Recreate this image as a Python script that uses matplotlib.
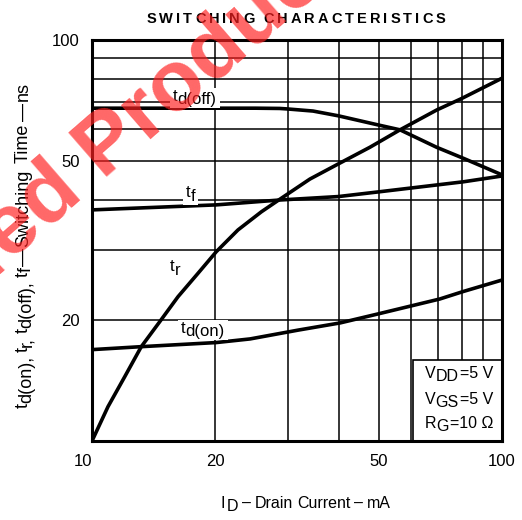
import math
import matplotlib
matplotlib.use("Agg")
import matplotlib.pyplot as plt
from matplotlib.patches import Rectangle
from matplotlib.transforms import IdentityTransform, Bbox

plt.rcParams['font.family'] = ['Liberation Sans', 'DejaVu Sans']

# data (ID in mA, time in ns)
tdoff_x = [10, 15, 20, 25, 28.7, 30, 34.6, 39.9, 49.9, 56.4, 69.3, 80.5, 100]
tdoff_y = [67.6, 67.6, 67.6, 67.6, 67.5, 67.3, 66.5, 64.7, 61.4, 59.7, 54.0, 50.7, 46.1]

tr_x = [10, 10.94, 12.02, 13.19, 14.63, 16.21, 18.14, 20.1, 22.7, 25.9, 28.95,
        34.0, 39.9, 47.6, 56.4, 69.3, 79.8, 100]
tr_y = [10, 12.18, 14.47, 17.19, 19.84, 22.9, 26.2, 29.66, 33.6, 37.3, 40.3,
        45.0, 49.1, 54.0, 59.7, 66.9, 71.5, 80.3]

tf_x = [10, 20.1, 28.7, 39.9, 49.9, 69.3, 80.5, 100]
tf_y = [37.7, 38.8, 39.9, 40.7, 41.8, 43.5, 44.3, 45.8]

tdon_x = [10, 13.2, 20.1, 24.3, 31.8, 40.3, 50.4, 70.5, 80.5, 100]
tdon_y = [16.9, 17.19, 17.6, 17.97, 18.9, 19.7, 20.8, 22.6, 23.6, 25.2]

W, H = 522, 520
fig = plt.figure(figsize=(W / 100, H / 100), dpi=100)
ax = fig.add_axes([92 / W, 1 - 441 / H, 410 / W, 401 / H])
ax.set_xscale('log')
ax.set_yscale('log')
ax.set_xlim(10, 100)
ax.set_ylim(10, 100)

for xs, ys in [(tdoff_x, tdoff_y), (tr_x, tr_y), (tf_x, tf_y), (tdon_x, tdon_y)]:
    ax.plot(xs, ys, color='black', lw=2.6, zorder=4, solid_capstyle='round')

# grid
for v in [20, 30, 40, 50, 60, 70, 80, 90]:
    ax.axhline(v, color='black', lw=1.1, zorder=1)
    ax.axvline(v, color='black', lw=1.1, zorder=1)

ax.set_xticks([10, 20, 50, 100])
ax.set_xticklabels(['10', '20', '50', '100'])
ax.set_yticks([20, 50, 100])
ax.set_yticklabels(['20', '50', '100'])
ax.minorticks_off()
ax.tick_params(length=0, labelsize=12, pad=9)
ax.get_xticklabels()[0].set_ha('right')
for s in ax.spines.values():
    s.set_linewidth(2.2)

renderer = fig.canvas.get_renderer()


def rich(x, y, pieces, size=12, rot=0, ha='left', weight='normal', bg=False, zorder=5):
    """pieces: (text, drop in px, gap before in px); x, y in image pixels (top-left origin)"""
    y = H - y
    arts = []
    for s, dy, gap in pieces:
        t = fig.text(0, 0, s, fontsize=size, fontweight=weight, transform=IdentityTransform(),
                     ha='left', va='baseline', zorder=zorder)
        arts.append((t, dy, gap, t.get_window_extent(renderer).width))
    total = sum(a[3] + a[2] for a in arts)
    pos = {'left': 0, 'center': -total / 2, 'right': -total}[ha]
    c, sn = math.cos(math.radians(rot)), math.sin(math.radians(rot))
    for t, dy, gap, w in arts:
        pos += gap
        t.set_position((x + pos * c + dy * sn, y + pos * sn - dy * c))
        t.set_rotation(rot)
        t.set_rotation_mode('anchor')
        pos += w
    if bg:
        bb = Bbox.union([a[0].get_window_extent(renderer) for a in arts])
        fig.add_artist(Rectangle((bb.x0 - 3, bb.y0 - 1), bb.width + 6, bb.height + 2,
                                 transform=IdentityTransform(), facecolor='white',
                                 edgecolor='none', zorder=zorder - 0.5))


# curve labels
rich(173, 101, [('t', 0, 0), ('d(off)', 3, 0)], bg=True)
rich(186, 197, [('t', 0, 0), ('f', 4, 0)], bg=True)
rich(170, 271, [('t', 0, 0), ('r', 4, 0)])
rich(181, 333, [('t', 0, 0), ('d(on)', 3, 0)], bg=True)

# conditions box
ax.add_patch(Rectangle((60.7, 10), 100 - 60.7, 15.9 - 10, facecolor='white',
                       edgecolor='black', lw=1.2, zorder=2))
rich(425, 378, [('V', 0, 0), ('DD', 3, 0), ('=5 V', 0, 1)], size=11.5)
rich(425, 404, [('V', 0, 0), ('GS', 3, 0), ('=5 V', 0, 1)], size=11.5)
rich(425, 428, [('R', 0, 0), ('G', 3, 0), ('=10 Ω', 0, 1)], size=11.5)

# title with letter spacing
title = 'SWITCHING CHARACTERISTICS'
tpieces = []
gap = 0
for ch in title:
    if ch == ' ':
        gap = 9
        continue
    tpieces.append((ch, 0, gap))
    gap = 3.0
rich(296, 23, tpieces, size=10.5, ha='center', weight='bold')

# axis labels
rich(306, 508, [('I', 0, 0), ('D', 3, 1), ('–', 0, 4), ('Drain', 0, 4), ('Current', 0, 4),
                ('–', 0, 4), ('mA', 0, 4)], size=11.5, ha='center')
rich(28, 245, [('t', 0, 0), ('d(on),', 3, 0), ('t', 0, 4), ('r,', 3, 0), ('t', 0, 4),
               ('d(off),', 3, 0), ('t', 0, 4), ('f', 3, 0), ('—', 0, 1), ('Switching', 0, 1),
               ('Time', 0, 7), ('—', 0, 2), ('ns', 0, 2)], size=13, rot=90, ha='center')

# watermark
wm = dict(fontsize=62, fontweight='bold', color='#ff2020', alpha=0.68, rotation=41,
          rotation_mode='anchor', va='baseline', zorder=10)
anchor = (9 / W, 1 - 262 / H)
fig.text(*anchor, 'ed Product', ha='left', **wm)
fig.text(*anchor, 'Discontinu', ha='right', **wm)

fig.savefig('out.png', dpi=100)
